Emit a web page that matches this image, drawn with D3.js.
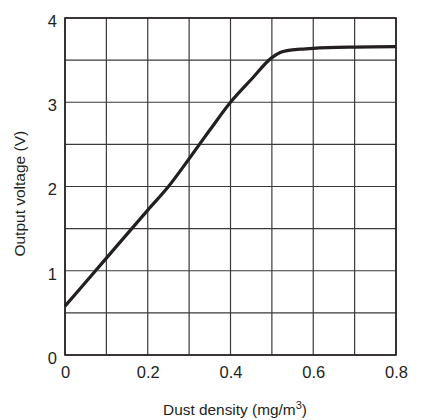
<!DOCTYPE html>
<html>
<head>
<meta charset="utf-8">
<script src="https://cdn.jsdelivr.net/npm/d3@7"></script>
<style>
  body { margin: 0; background: #fff; }
  text { font-family: "Liberation Sans", Arial, sans-serif; fill: #231f20; }
</style>
</head>
<body>
<div id="chart"></div>
<script>
// curve
const density = [0, 0.1, 0.2, 0.25, 0.3, 0.35, 0.4, 0.45, 0.5, 0.52, 0.54, 0.57, 0.6, 0.7, 0.8];
const voltage = [0.58, 1.15, 1.72, 2.0, 2.33, 2.67, 3.0, 3.27, 3.53, 3.59, 3.615, 3.63, 3.64, 3.655, 3.66];
const xTicks = [0, 0.2, 0.4, 0.6, 0.8];
const yTicks = [0, 1, 2, 3, 4];
const xGrid = [0, 0.1, 0.2, 0.3, 0.4, 0.5, 0.6, 0.7, 0.8];
const yGrid = [0, 0.5, 1, 1.5, 2, 2.5, 3, 3.5, 4];

const width = 432, height = 420;
const margin = {left: 65, right: 36, top: 18, bottom: 65};

const svg = d3.select("#chart").append("svg")
    .attr("width", width)
    .attr("height", height);

const x = d3.scaleLinear().domain([0, 0.8]).range([margin.left, width - margin.right]);
const y = d3.scaleLinear().domain([0, 4]).range([height - margin.bottom, margin.top]);

// grid
svg.append("g").selectAll("line")
    .data(xGrid).enter().append("line")
    .attr("x1", d => x(d)).attr("x2", d => x(d))
    .attr("y1", y(0)).attr("y2", y(4))
    .attr("stroke", "#3a3a3a").attr("stroke-width", 1.2);

svg.append("g").selectAll("line")
    .data(yGrid).enter().append("line")
    .attr("x1", x(0)).attr("x2", x(0.8))
    .attr("y1", d => y(d)).attr("y2", d => y(d))
    .attr("stroke", "#3a3a3a").attr("stroke-width", 1.2);

// frame
svg.append("rect")
    .attr("x", x(0)).attr("y", y(4))
    .attr("width", x(0.8) - x(0)).attr("height", y(0) - y(4))
    .attr("fill", "none").attr("stroke", "#231f20").attr("stroke-width", 1.6);

// axes (labels only)
const xAxis = svg.append("g")
    .attr("transform", `translate(0,${y(0)})`)
    .call(d3.axisBottom(x).tickValues(xTicks).tickSize(0).tickPadding(11).tickFormat(d3.format("")));
const yAxis = svg.append("g")
    .attr("transform", `translate(${x(0)},0)`)
    .call(d3.axisLeft(y).tickValues(yTicks).tickSize(0).tickPadding(8).tickFormat(d3.format("d")));
[xAxis, yAxis].forEach(a => {
    a.select(".domain").remove();
    a.selectAll("text").attr("font-size", 16.5).attr("fill", "#231f20")
        .style("font-family", '"Liberation Sans", Arial, sans-serif');
});
yAxis.selectAll("text").attr("dy", "0.5em");

// curve
const line = d3.line()
    .x((d, i) => x(density[i]))
    .y((d, i) => y(voltage[i]))
    .curve(d3.curveMonotoneX);

svg.append("path")
    .datum(density)
    .attr("d", line)
    .attr("fill", "none")
    .attr("stroke", "#231f20")
    .attr("stroke-width", 3.2)
    .attr("stroke-linejoin", "round");

// titles
const xt = svg.append("text")
    .attr("x", 235).attr("y", 415)
    .attr("text-anchor", "middle")
    .attr("font-size", 15.4);
xt.append("tspan").text("Dust density (mg/m");
xt.append("tspan").text("3").attr("font-size", 11).attr("dy", -6.5);
xt.append("tspan").text(")").attr("dy", 6.5);

svg.append("text")
    .attr("transform", "translate(24.5,193.7) rotate(-90)")
    .attr("text-anchor", "middle")
    .attr("font-size", 15.5)
    .text("Output voltage (V)");
</script>
</body>
</html>
